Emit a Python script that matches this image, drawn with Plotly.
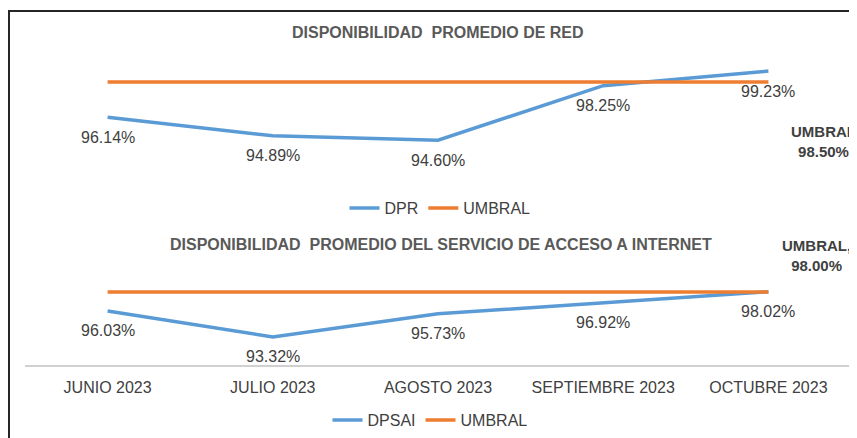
import plotly.graph_objects as go

months = ["JUNIO 2023", "JULIO 2023", "AGOSTO 2023", "SEPTIEMBRE 2023", "OCTUBRE 2023"]
dpr = [96.14, 94.89, 94.60, 98.25, 99.23]
umbral_dpr = [98.50, 98.50, 98.50, 98.50, 98.50]
dpsai = [96.03, 93.32, 95.73, 96.92, 98.02]
umbral_dpsai = [98.00, 98.00, 98.00, 98.00, 98.00]

title_top = "DISPONIBILIDAD  PROMEDIO DE RED"
title_bot = "DISPONIBILIDAD  PROMEDIO DEL SERVICIO DE ACCESO A INTERNET"

BLUE = "#5B9BD5"
ORANGE = "#ED7D31"
FONT = "Liberation Sans, Arial"
LABEL_C = "#404040"

# page body has an 8px margin; figure is placed at (8, 8) on the page
OFF = 8
W, H = 849, 430
ML = 17
PW = 826
MR = W - ML - PW


def px(x):
    """page x pixel -> paper coordinate"""
    return (x - OFF - ML) / PW


def py(y):
    """page y pixel -> paper coordinate"""
    return 1 - (y - OFF) / H


fig = go.Figure()
fig.add_trace(go.Scatter(x=months, y=dpr, mode="lines", name="DPR",
                         line=dict(color=BLUE, width=3.5), xaxis="x", yaxis="y", legend="legend"))
fig.add_trace(go.Scatter(x=months, y=umbral_dpr, mode="lines", name="UMBRAL",
                         line=dict(color=ORANGE, width=3.5), xaxis="x", yaxis="y", legend="legend"))
fig.add_trace(go.Scatter(x=months, y=dpsai, mode="lines", name="DPSAI",
                         line=dict(color=BLUE, width=3.5), xaxis="x2", yaxis="y2", legend="legend2"))
fig.add_trace(go.Scatter(x=months, y=umbral_dpsai, mode="lines", name="UMBRAL",
                         line=dict(color=ORANGE, width=3.5), xaxis="x2", yaxis="y2", legend="legend2"))

annotations = []
for m, v in zip(months, dpr):
    annotations.append(dict(x=m, y=v, xref="x", yref="y", text=f"{v:.2f}%", showarrow=False,
                            xanchor="center", yshift=-20, font=dict(family=FONT, size=16, color=LABEL_C)))
for m, v in zip(months, dpsai):
    annotations.append(dict(x=m, y=v, xref="x2", yref="y2", text=f"{v:.2f}%", showarrow=False,
                            xanchor="center", yshift=-20, font=dict(family=FONT, size=16, color=LABEL_C)))

annotations.append(dict(x=px(438), y=py(33), xref="paper", yref="paper", text=f"<b>{title_top}</b>",
                        showarrow=False, xanchor="center", yanchor="middle",
                        font=dict(family=FONT, size=16, color="#595959")))
annotations.append(dict(x=px(441), y=py(244), xref="paper", yref="paper", text=f"<b>{title_bot}</b>",
                        showarrow=False, xanchor="center", yanchor="middle",
                        font=dict(family=FONT, size=16, color="#595959")))
annotations.append(dict(x=px(823), y=py(141), xref="paper", yref="paper",
                        text=f"<b>UMBRAL<br>{umbral_dpr[-1]:.2f}%</b>", showarrow=False, align="center",
                        xanchor="center", yanchor="middle",
                        font=dict(family=FONT, size=15, color=LABEL_C)))
annotations.append(dict(x=px(816), y=py(255), xref="paper", yref="paper",
                        text=f"<b>UMBRAL,<br>{umbral_dpsai[-1]:.2f}%</b>", showarrow=False, align="center",
                        xanchor="center", yanchor="middle",
                        font=dict(family=FONT, size=15, color=LABEL_C)))

fig.update_layout(
    width=W, height=H,
    margin=dict(l=ML, r=MR, t=0, b=0),
    paper_bgcolor="white", plot_bgcolor="white",
    showlegend=True,
    xaxis=dict(domain=[0, 1], anchor="y", range=[-0.5, 4.5], showticklabels=False,
               showgrid=False, zeroline=False, showline=False, ticks=""),
    yaxis=dict(domain=[py(164), py(59.6)], range=[93, 100], visible=False),
    xaxis2=dict(domain=[0, 1], anchor="y2", range=[-0.5, 4.5], showgrid=False, zeroline=False,
                showline=True, linecolor="#d0d0d0", linewidth=1.5, ticks="",
                ticklabelstandoff=7,
                tickfont=dict(family=FONT, size=16, color=LABEL_C)),
    yaxis2=dict(domain=[py(365), py(282.4)], range=[90.4, 99], visible=False),
    legend=dict(orientation="h", x=px(440), y=py(208), xanchor="center", yanchor="middle",
                font=dict(family=FONT, size=16, color=LABEL_C), bgcolor="rgba(0,0,0,0)",
                itemwidth=30, tracegroupgap=0),
    legend2=dict(orientation="h", x=px(430), y=py(420), xanchor="center", yanchor="middle",
                 font=dict(family=FONT, size=16, color=LABEL_C), bgcolor="rgba(0,0,0,0)",
                 itemwidth=30, tracegroupgap=0),
    annotations=annotations,
    shapes=[dict(type="rect", xref="paper", yref="paper", x0=px(9), x1=px(880), y0=py(470), y1=py(11),
                 line=dict(color="#262626", width=2), fillcolor="rgba(0,0,0,0)", layer="above")],
)

fig.write_html("out.html")
